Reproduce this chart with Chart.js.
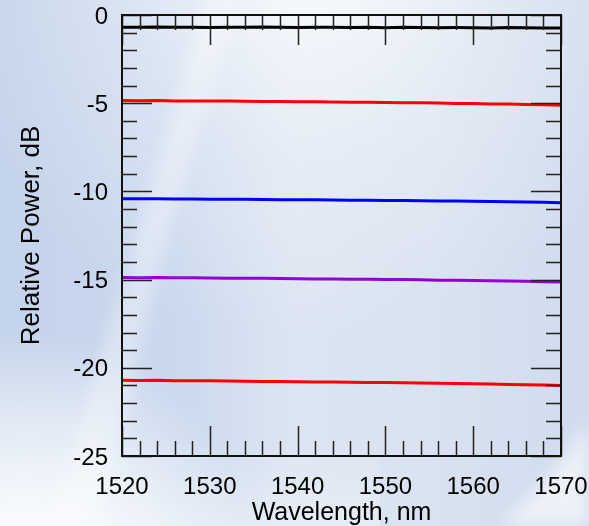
<!DOCTYPE html>
<html>
<head>
<meta charset="utf-8">
<script src="https://cdn.jsdelivr.net/npm/chart.js@4.4.0/dist/chart.umd.min.js"></script>
<style>
  html, body { margin: 0; padding: 0; background: #d3dff0; }
  canvas { display: block; }
</style>
</head>
<body>
<canvas id="powerChart" width="589" height="526"></canvas>
<script>
// wavelength points, nm
var wavelength = [1520, 1522, 1524, 1526, 1528, 1530, 1532, 1534, 1536, 1538, 1540, 1542, 1544,
  1546, 1548, 1550, 1552, 1554, 1556, 1558, 1560, 1562, 1564, 1566, 1568, 1570];

// relative power of each trace, dB
var trace0 = [-0.69, -0.70, -0.68, -0.70, -0.69, -0.71, -0.69, -0.70, -0.68, -0.70, -0.71, -0.69, -0.70,
  -0.71, -0.70, -0.72, -0.70, -0.71, -0.72, -0.71, -0.72, -0.73, -0.71, -0.72, -0.73, -0.73];
var trace5 = [-4.85, -4.86, -4.85, -4.87, -4.87, -4.88, -4.88, -4.89, -4.90, -4.90, -4.92, -4.92, -4.93,
  -4.94, -4.95, -4.96, -4.97, -4.98, -4.99, -5.01, -5.02, -5.04, -5.05, -5.07, -5.09, -5.11];
var trace10 = [-10.41, -10.42, -10.41, -10.43, -10.43, -10.44, -10.45, -10.45, -10.46, -10.47, -10.47, -10.48, -10.49,
  -10.50, -10.50, -10.51, -10.52, -10.53, -10.54, -10.55, -10.56, -10.57, -10.59, -10.60, -10.62, -10.64];
var trace15 = [-14.88, -14.89, -14.88, -14.90, -14.90, -14.91, -14.92, -14.92, -14.93, -14.94, -14.95, -14.96, -14.97,
  -14.98, -14.98, -14.99, -15.00, -15.01, -15.03, -15.04, -15.05, -15.07, -15.08, -15.10, -15.12, -15.14];
var trace20 = [-20.71, -20.72, -20.71, -20.73, -20.74, -20.74, -20.75, -20.76, -20.77, -20.78, -20.79, -20.80, -20.81,
  -20.82, -20.83, -20.84, -20.85, -20.86, -20.87, -20.89, -20.90, -20.92, -20.94, -20.96, -20.98, -21.00];

var traceColors = ['#000000', '#ff0000', '#0000ff', '#9400d3', '#ff0000'];
var xTitle = 'Wavelength, nm';
var yTitle = 'Relative Power, dB';

var tickFont = '"Liberation Sans Narrow", "Arial Narrow", "Liberation Sans", Arial, sans-serif';
var titleFont = '"Liberation Sans", Arial, sans-serif';

function toPoints(ys) {
  return ys.map(function (y, i) { return { x: wavelength[i], y: y }; });
}

// bluish picture behind the chart
var backdrop = {
  id: 'backdrop',
  beforeDraw: function (chart) {
    var c = chart.ctx, w = chart.width, h = chart.height;
    c.save();
    var g = c.createLinearGradient(0, 0, w, 0);
    g.addColorStop(0, '#c3d3ea');
    g.addColorStop(0.3, '#cbd9ee');
    g.addColorStop(0.5, '#dce5f2');
    g.addColorStop(0.75, '#d8e2f0');
    g.addColorStop(1, '#d0dbed');
    c.fillStyle = g;
    c.fillRect(0, 0, w, h);

    // glow at the top centre
    var r = c.createRadialGradient(310, -40, 10, 310, -40, 380);
    r.addColorStop(0, 'rgba(255,255,255,0.8)');
    r.addColorStop(0.5, 'rgba(255,255,255,0.3)');
    r.addColorStop(1, 'rgba(255,255,255,0)');
    c.fillStyle = r;
    c.fillRect(0, 0, w, h);

    // diagonal streak
    c.filter = 'blur(8px)';
    c.fillStyle = 'rgba(255,255,255,0.35)';
    c.beginPath();
    c.moveTo(205, 0);
    c.lineTo(240, 0);
    c.lineTo(160, 260);
    c.lineTo(100, 526);
    c.lineTo(50, 526);
    c.lineTo(130, 260);
    c.closePath();
    c.fill();
    // swoosh at the lower right
    c.fillStyle = 'rgba(255,255,255,0.6)';
    c.beginPath();
    c.moveTo(589, 420);
    c.quadraticCurveTo(560, 470, 500, 526);
    c.lineTo(589, 526);
    c.closePath();
    c.fill();
    c.filter = 'none';

    // white fade in the lower left
    var b = c.createRadialGradient(20, 560, 10, 20, 560, 230);
    b.addColorStop(0, 'rgba(255,255,255,0.95)');
    b.addColorStop(0.6, 'rgba(255,255,255,0.5)');
    b.addColorStop(1, 'rgba(255,255,255,0)');
    c.fillStyle = b;
    c.fillRect(0, 0, w, h);
    var bb = c.createLinearGradient(0, 440, 0, 526);
    bb.addColorStop(0, 'rgba(255,255,255,0)');
    bb.addColorStop(1, 'rgba(255,255,255,0.35)');
    c.fillStyle = bb;
    c.fillRect(0, 440, 380, 86);
    c.restore();
  }
};

// frame with inward ticks on all four sides
var frame = {
  id: 'frame',
  afterDraw: function (chart) {
    var c = chart.ctx, a = chart.chartArea;
    var xs = chart.scales.x, ys = chart.scales.y;
    c.save();
    c.lineWidth = 1.5;
    c.strokeStyle = '#222';
    c.beginPath();
    for (var v = -25; v <= 0; v++) {
      var py = Math.round(ys.getPixelForValue(v)) + 0.5;
      var len = (v % 5 === 0) ? 30 : 15;
      c.moveTo(a.left, py); c.lineTo(a.left + len, py);
      c.moveTo(a.right, py); c.lineTo(a.right - len, py);
    }
    for (var x = 1520; x <= 1570; x += 2) {
      var px = Math.round(xs.getPixelForValue(x)) + 0.5;
      var l2 = (x % 10 === 0) ? 30 : 15;
      c.moveTo(px, a.bottom); c.lineTo(px, a.bottom - l2);
      c.moveTo(px, a.top); c.lineTo(px, a.top + l2);
    }
    c.stroke();
    c.lineWidth = 2;
    c.strokeStyle = '#111';
    c.strokeRect(a.left, a.top, a.right - a.left, a.bottom - a.top);
    c.restore();
  }
};

var series = [trace0, trace5, trace10, trace15, trace20];
var ctx = document.getElementById('powerChart').getContext('2d');
var chart = new Chart(ctx, {
  type: 'line',
  data: {
    datasets: series.map(function (s, i) {
      return {
        data: toPoints(s),
        borderColor: traceColors[i],
        borderWidth: 3,
        pointRadius: 0,
        tension: 0,
        fill: false
      };
    })
  },
  options: {
    responsive: false,
    animation: false,
    layout: { padding: { top: 15, right: 28, bottom: 2, left: 2 } },
    plugins: { legend: { display: false }, tooltip: { enabled: false } },
    scales: {
      x: {
        type: 'linear',
        min: 1520,
        max: 1570,
        afterFit: function (s) { s.height = 68; s.paddingLeft = 0; s.paddingRight = 0; },
        grid: { display: false, drawTicks: false, tickLength: 0 },
        border: { display: false },
        ticks: {
          stepSize: 10,
          padding: 19,
          color: '#000',
          maxRotation: 0,
          callback: function (v) { return String(v); },
          font: { family: tickFont, size: 24, lineHeight: 1 }
        },
        title: {
          display: true,
          text: xTitle,
          color: '#000',
          padding: { top: 0, bottom: -2 },
          font: { family: titleFont, size: 25, lineHeight: 1 }
        }
      },
      y: {
        min: -25,
        max: 0,
        afterFit: function (s) { s.width = 120; s.paddingTop = 0; s.paddingBottom = 0; },
        grid: { display: false, drawTicks: false, tickLength: 0 },
        border: { display: false },
        ticks: {
          stepSize: 5,
          padding: 14,
          labelOffset: 2,
          color: '#000',
          font: { family: tickFont, size: 24, lineHeight: 1 }
        },
        title: {
          display: true,
          text: yTitle,
          color: '#000',
          padding: { top: 17, bottom: 0 },
          font: { family: titleFont, size: 26, lineHeight: 1 }
        }
      }
    }
  },
  plugins: [backdrop, frame]
});
</script>
</body>
</html>
